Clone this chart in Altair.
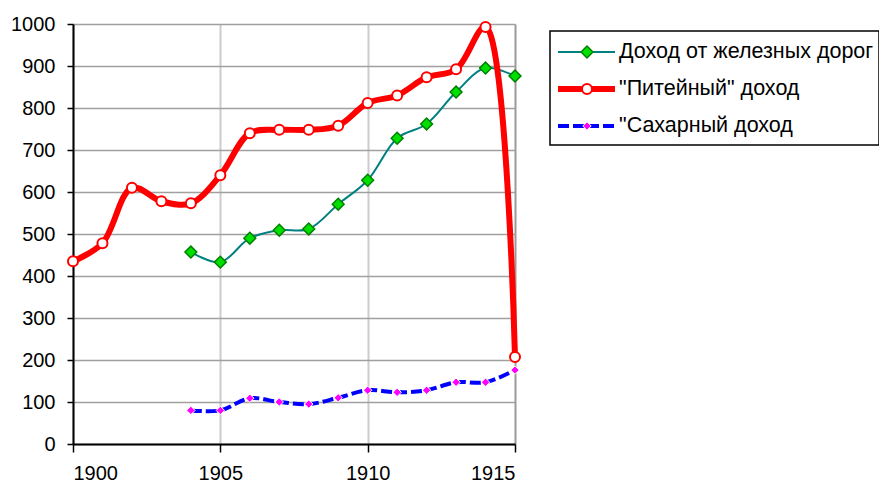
import altair as alt
import pandas as pd

# ---- data ----
years_drink = list(range(1900, 1916))
drink = [435, 478, 610, 578, 573, 640, 740, 748, 748, 758, 812, 830, 873, 892, 993, 207]

years_rail = list(range(1904, 1916))
rail = [457, 433, 490, 509, 512, 571, 628, 728, 762, 838, 895, 876]

years_sugar = list(range(1904, 1916))
sugar = [80, 80, 109, 100, 95, 110, 128, 123, 128, 147, 147, 176]

names = ["Доход от железных дорог", "\"Питейный\" доход", "\"Сахарный доход"]
x_ticks = [1900, 1905, 1910, 1915]
y_ticks = list(range(0, 1001, 100))

df_rail = pd.DataFrame({"year": years_rail, "value": rail})
df_drink = pd.DataFrame({"year": years_drink, "value": drink})
df_sugar = pd.DataFrame({"year": years_sugar, "value": sugar})

FONT = "Liberation Sans"
INTERP = "catmull-rom"

x_enc = alt.X(
    "year:Q",
    scale=alt.Scale(domain=[1900, 1915], nice=False, zero=False),
    axis=alt.Axis(
        values=x_ticks, format="d", title=None,
        grid=True,
        gridColor={"condition": {"test": "datum.value == 1915", "value": "#9a9a9a"}, "value": "#cccccc"},
        gridWidth=2,
        domainColor="black", domainWidth=2,
        tickColor="black", tickWidth=1.5, tickSize=8,
        labelFontSize=20, labelColor="black", labelFont=FONT, labelPadding=11,
    ),
)
y_enc = alt.Y(
    "value:Q",
    scale=alt.Scale(domain=[0, 1000], nice=False),
    axis=alt.Axis(
        values=y_ticks, format="d", title=None,
        grid=True, gridColor="#a0a0a0", gridWidth=1.5,
        domainColor="black", domainWidth=2,
        tickColor="black", tickWidth=1.5, tickSize=6,
        labelFontSize=20, labelColor="black", labelFont=FONT, labelPadding=12,
    ),
)

rail_line = alt.Chart(df_rail).mark_line(
    color="#008080", strokeWidth=2, interpolate=INTERP
).encode(x=x_enc, y=y_enc)
rail_pts = alt.Chart(df_rail).mark_point(
    shape="diamond", filled=True, fill="#00e000", stroke="#008000",
    strokeWidth=1.5, size=140, opacity=1
).encode(x=x_enc, y=y_enc)

drink_line = alt.Chart(df_drink).mark_line(
    color="#ff0000", strokeWidth=6, interpolate=INTERP
).encode(x=x_enc, y=y_enc)
drink_pts = alt.Chart(df_drink).mark_point(
    shape="circle", filled=True, fill="white", stroke="#ff0000",
    strokeWidth=2, size=100, opacity=1
).encode(x=x_enc, y=y_enc)

sugar_line = alt.Chart(df_sugar).mark_line(
    color="#0000ff", strokeWidth=4, strokeDash=[11, 4], interpolate=INTERP
).encode(x=x_enc, y=y_enc)
sugar_pts = alt.Chart(df_sugar).mark_point(
    shape="diamond", filled=True, fill="#ff00ff", stroke="white",
    strokeWidth=1, size=70, opacity=1
).encode(x=x_enc, y=y_enc)

# ---- legend (drawn manually to get line+marker symbols) ----
leg_df = pd.DataFrame({"label": names})
box = alt.Chart(leg_df.head(1)).mark_rect(
    fill="white", stroke="black", strokeWidth=1.5
).encode(x=alt.value(477), x2=alt.value(806), y=alt.value(7), y2=alt.value(121))

row_y = [28, 65, 102]
line_styles = [
    dict(color="#008080", strokeWidth=2),
    dict(color="#ff0000", strokeWidth=6),
    dict(color="#0000ff", strokeWidth=4, strokeDash=[11, 4]),
]
pt_styles = [
    dict(shape="diamond", filled=True, fill="#00e000", stroke="#008000", strokeWidth=1.5, size=140, opacity=1),
    dict(shape="circle", filled=True, fill="white", stroke="#ff0000", strokeWidth=2, size=100, opacity=1),
    dict(shape="diamond", filled=True, fill="#ff00ff", stroke="white", strokeWidth=1, size=70, opacity=1),
]
legend_layers = [box]
for i, name in enumerate(names):
    d = pd.DataFrame({"label": [name]})
    legend_layers.append(
        alt.Chart(d).mark_rule(**line_styles[i]).encode(
            x=alt.value(485), x2=alt.value(542), y=alt.value(row_y[i]))
    )
    legend_layers.append(
        alt.Chart(d).mark_point(**pt_styles[i]).encode(
            x=alt.value(514), y=alt.value(row_y[i]))
    )
    legend_layers.append(
        alt.Chart(d).mark_text(
            align="left", baseline="middle", fontSize=21.5, font=FONT, color="black"
        ).encode(x=alt.value(546), y=alt.value(row_y[i]), text="label:N")
    )

chart = alt.layer(
    rail_line, rail_pts, drink_line, drink_pts, sugar_line, sugar_pts, *legend_layers
).properties(
    width=442, height=420,
    autosize=alt.AutoSizeParams(type="none"),
    padding={"left": 65, "top": 16, "right": 364, "bottom": 40},
).configure_view(stroke=None).configure(font=FONT, background="white")

chart.save("out.html", embed_options={"renderer": "svg", "actions": False})
